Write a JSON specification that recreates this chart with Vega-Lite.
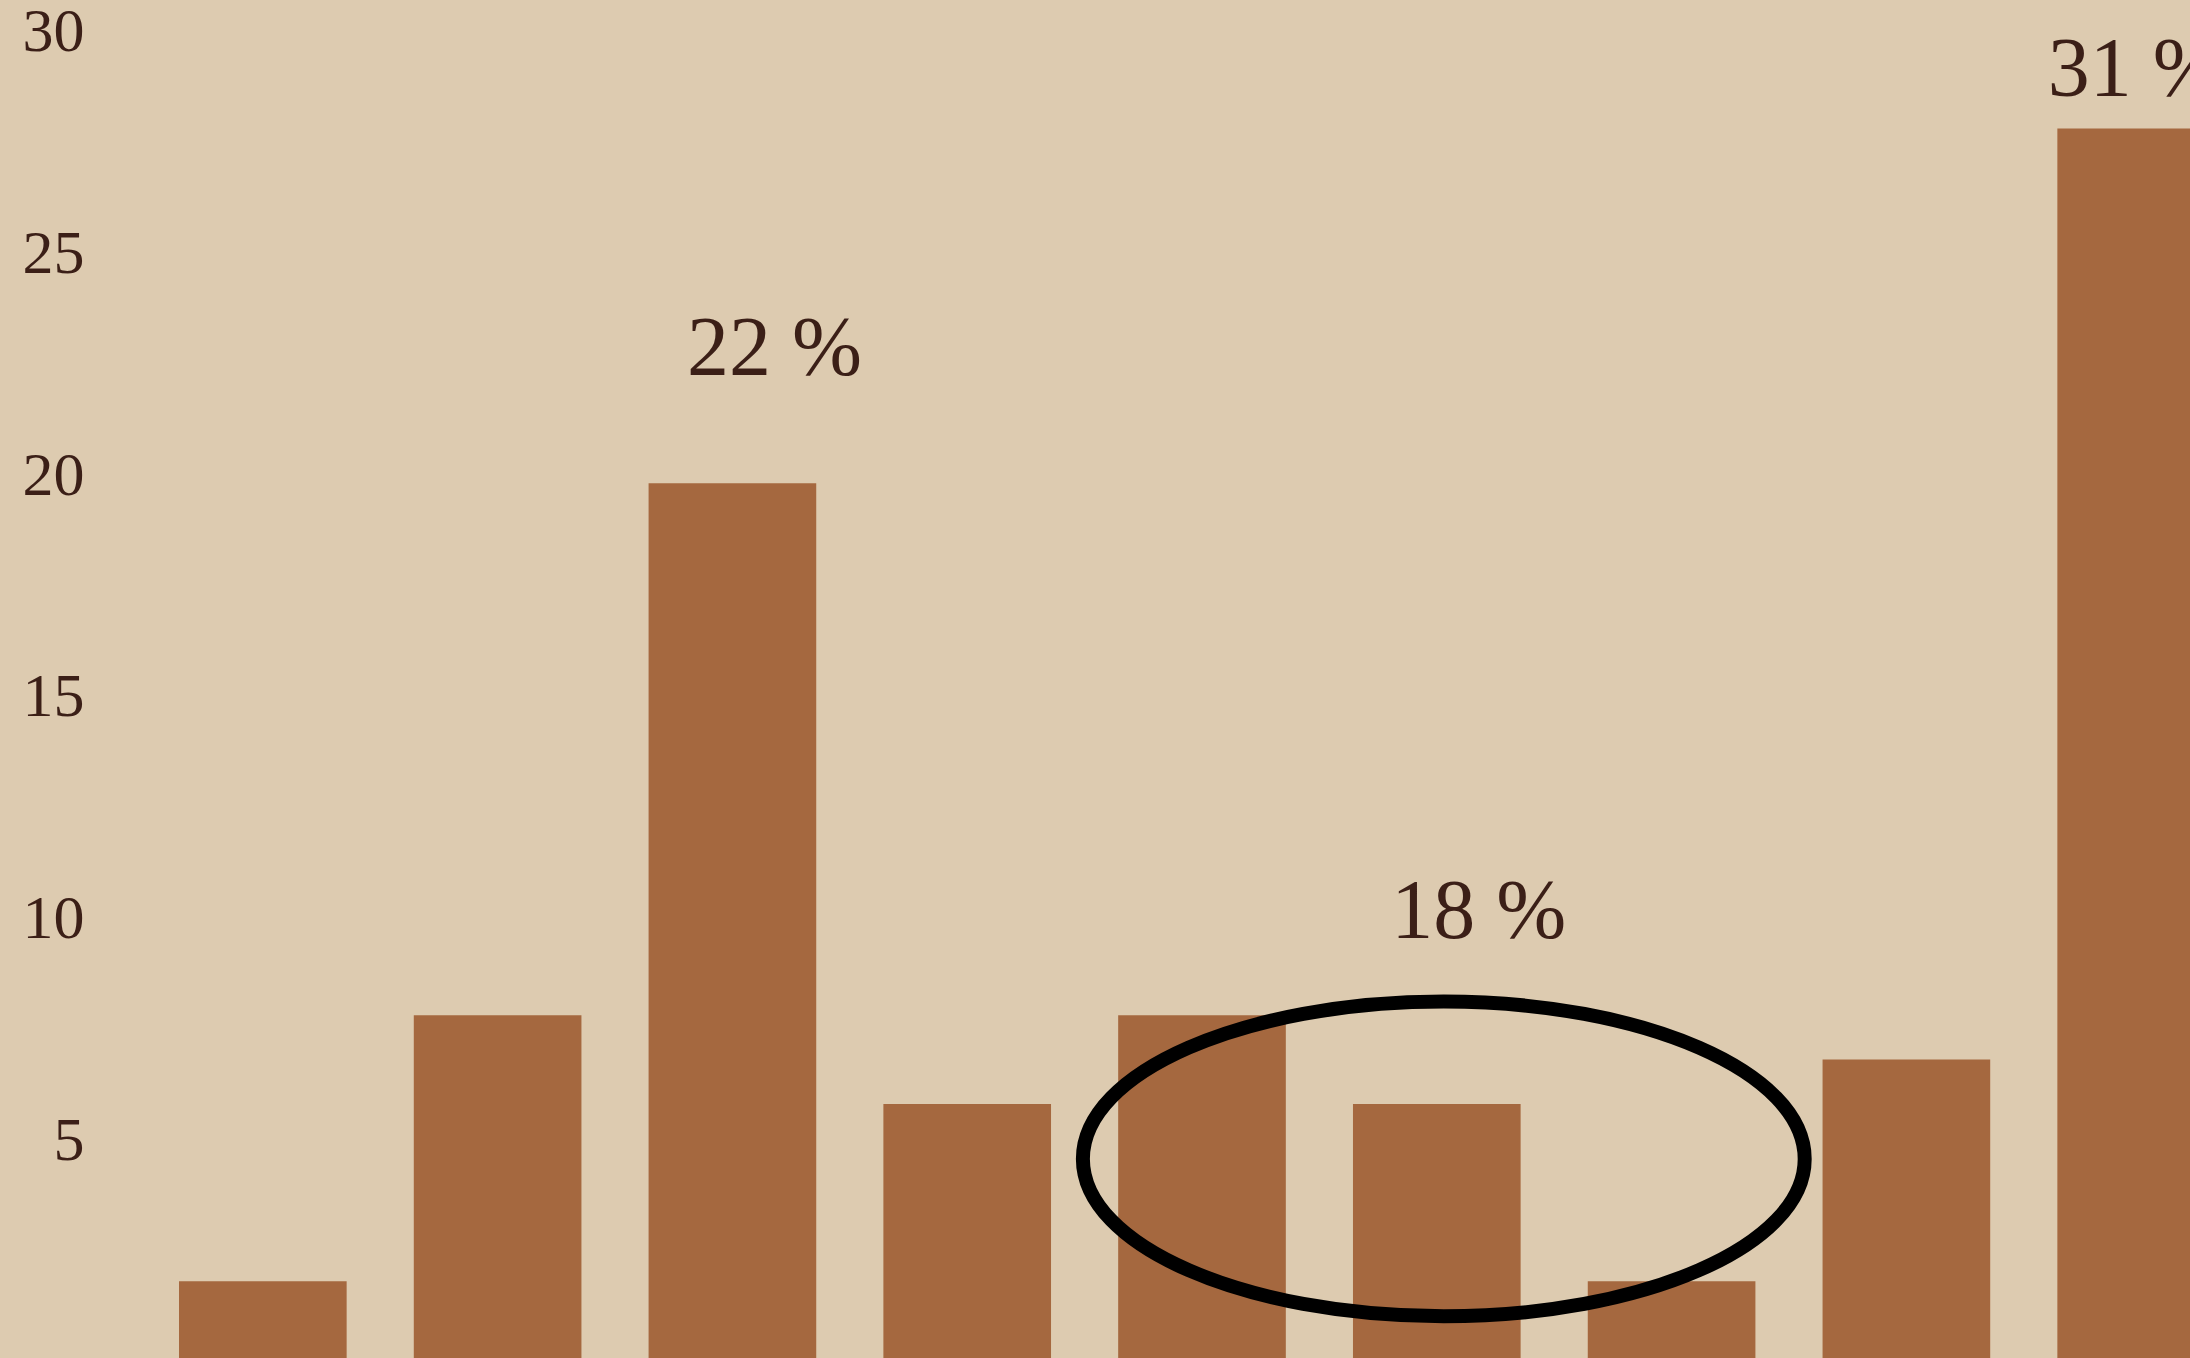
{
  "$schema": "https://vega.github.io/schema/vega-lite/v6.json",
  "width": 2190,
  "height": 1358,
  "autosize": {"type": "none"},
  "padding": 0,
  "background": "#ddcbb0",
  "config": {"view": {"stroke": null}},
  "datasets": {
    "bars": [
      {"bar": 1, "value": 2},
      {"bar": 2, "value": 8},
      {"bar": 3, "value": 20},
      {"bar": 4, "value": 6},
      {"bar": 5, "value": 8},
      {"bar": 6, "value": 6},
      {"bar": 7, "value": 2},
      {"bar": 8, "value": 7},
      {"bar": 9, "value": 28}
    ],
    "labels": [
      {"bar": 3, "label": "22 %", "pos": 23.0},
      {"bar": 6, "label": "18 %", "pos": 10.3},
      {"bar": 9, "label": "31 %", "pos": 29.3}
    ],
    "ring": [{"bar": 6, "value": 4.76}]
  },
  "encoding": {
    "x": {
      "field": "bar",
      "type": "ordinal",
      "axis": null,
      "scale": {"domain": [1,2,3,4,5,6,7,8,9], "range": [179, 2225], "paddingInner": 0.286, "paddingOuter": 0}
    }
  },
  "layer": [
    {
      "data": {"name": "bars"},
      "mark": {"type": "bar", "color": "#a5683f", "clip": true},
      "encoding": {
        "y": {
          "field": "value",
          "type": "quantitative",
          "scale": {"domain": [0.27, 30.9], "zero": false, "nice": false},
          "axis": {
            "values": [5, 10, 15, 20, 25, 30],
            "orient": "left",
            "offset": -84,
            "domain": false,
            "ticks": false,
            "grid": false,
            "title": null,
            "labelPadding": 0,
            "labelOffset": -8,
            "labelFont": "Liberation Serif",
            "labelFontSize": 62,
            "labelColor": "#3b1f17",
            "labelBaseline": "middle"
          }
        }
      }
    },
    {
      "data": {"name": "labels"},
      "transform": [{"filter": "datum.bar != 9"}],
      "mark": {"type": "text", "font": "Liberation Serif", "fontSize": 84, "color": "#3b1f17", "baseline": "middle", "align": "center", "xOffset": 42},
      "encoding": {
        "y": {"field": "pos", "type": "quantitative"},
        "text": {"field": "label"}
      }
    },
    {
      "data": {"name": "labels"},
      "transform": [{"filter": "datum.bar == 9"}],
      "mark": {"type": "text", "font": "Liberation Serif", "fontSize": 84, "color": "#3b1f17", "baseline": "middle", "align": "center", "xOffset": -6},
      "encoding": {
        "y": {"field": "pos", "type": "quantitative"},
        "text": {"field": "label"}
      }
    },
    {
      "data": {"name": "ring"},
      "mark": {
        "type": "point",
        "shape": "M -1 0 A 1 0.436 0 1 1 1 0 A 1 0.436 0 1 1 -1 0 Z",
        "filled": false,
        "stroke": "#000000",
        "strokeWidth": 14,
        "opacity": 1,
        "xOffset": 7
      },
      "encoding": {
        "y": {"field": "value", "type": "quantitative"},
        "size": {"value": 521000}
      }
    }
  ]
}
